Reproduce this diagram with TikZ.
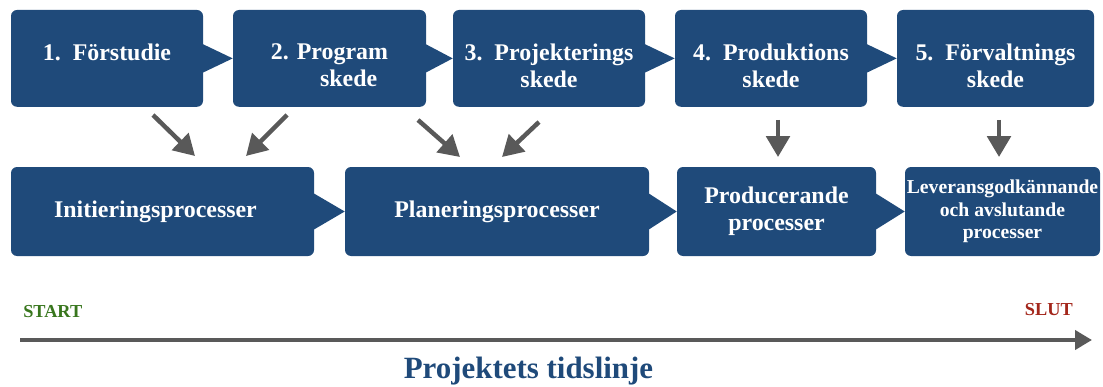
\documentclass[tikz,border=0pt]{standalone}
\usepackage{fontspec}
\setmainfont{Liberation Serif}
\usetikzlibrary{arrows.meta, positioning}

\definecolor{boxblue}{RGB}{31,74,122}
\definecolor{arrowgray}{RGB}{89,89,89}
\definecolor{startgreen}{RGB}{56,118,29}
\definecolor{slutred}{RGB}{163,38,27}

\tikzset{
    phasebox/.style={fill=boxblue, rounded corners=0.15cm, inner sep=0pt,
        minimum width=4.8cm, minimum height=2.42cm},
    phasetext/.style={text=white, align=center, inner sep=0pt, anchor=north,
        font=\bfseries\fontsize{17}{19}\selectfont},
    procbox/.style={fill=boxblue, rounded corners=0.15cm, inner sep=0pt,
        minimum height=2.225cm, text=white, align=center,
        font=\bfseries\fontsize{17}{19}\selectfont},
    notch/.style={fill=boxblue},
    flowarrow/.style={draw=arrowgray, line width=3.2pt,
        -{Triangle[width=0.58cm, length=0.52cm]}},
    timearrow/.style={draw=arrowgray, line width=2.85pt,
        -{Triangle[width=0.475cm, length=0.425cm]}}
}

\begin{document}
\begin{tikzpicture}

    \useasboundingbox (0,0) rectangle (27.575,-9.675);

    % Phase boxes
    \node[phasebox] (b1) at (2.675,-1.46) {};
    \node[phasebox, minimum width=4.825cm] (b2) at (8.2375,-1.46) {};
    \node[phasebox] (b3) at (13.725,-1.46) {};
    \node[phasebox] (b4) at (19.275,-1.46) {};
    \node[phasebox, minimum width=4.925cm] (b5) at (24.8875,-1.46) {};

    \node[phasetext] (t1) at ([yshift=-0.85cm]b1.north) {1.\ \ Förstudie};
    \node[phasetext] (t2) at ([yshift=-0.85cm]b2.north) {2. Program\\\hspace*{1.6em}skede};
    \node[phasetext] (t3) at ([yshift=-0.85cm]b3.north) {3.\ \ Projekterings\\skede};
    \node[phasetext] (t4) at ([yshift=-0.85cm]b4.north) {4.\ \ Produktions\\skede};
    \node[phasetext] (t5) at ([yshift=-0.85cm]b5.north) {5.\ \ Förvaltnings\\skede};

    % Notches between phases
    \fill[notch] ([shift={(-0.05,0.375)}]b1.east) -- (b2.west) -- ([shift={(-0.05,-0.375)}]b1.east) -- cycle;
    \fill[notch] ([shift={(-0.05,0.375)}]b2.east) -- (b3.west) -- ([shift={(-0.05,-0.375)}]b2.east) -- cycle;
    \fill[notch] ([shift={(-0.05,0.375)}]b3.east) -- (b4.west) -- ([shift={(-0.05,-0.375)}]b3.east) -- cycle;
    \fill[notch] ([shift={(-0.05,0.375)}]b4.east) -- (b5.west) -- ([shift={(-0.05,-0.375)}]b4.east) -- cycle;

    % Process boxes
    \node[procbox, minimum width=7.575cm] (p1) at (4.0625,-5.2875) {\hspace*{-0.35cm}Initieringsprocesser};
    \node[procbox, minimum width=7.6cm] (p2) at (12.425,-5.2875) {Planeringsprocesser};
    \node[procbox, minimum width=4.975cm] (p3) at (19.4125,-5.2875) {Producerande\\processer};
    \node[procbox, minimum width=4.875cm, font=\bfseries\fontsize{14}{16}\selectfont]
        (p4) at (25.0625,-5.2875) {Leveransgodkännande\\och avslutande\\processer};

    % Notches between processes
    \fill[notch] ([shift={(-0.05,0.475)}]p1.east) -- (p2.west) -- ([shift={(-0.05,-0.475)}]p1.east) -- cycle;
    \fill[notch] ([shift={(-0.05,0.475)}]p2.east) -- (p3.west) -- ([shift={(-0.05,-0.475)}]p2.east) -- cycle;
    \fill[notch] ([shift={(-0.05,0.475)}]p3.east) -- (p4.west) -- ([shift={(-0.05,-0.475)}]p3.east) -- cycle;

    % ================================
    % Arrows phase -> process

    \coordinate (a1s) at (3.825,-2.875);
    \coordinate (a1e) at (4.875,-3.9);
    \coordinate (a2s) at (7.175,-2.875);
    \coordinate (a2e) at (6.15,-3.9);
    \coordinate (a3s) at (10.45,-3.0);
    \coordinate (a3e) at (11.5,-3.925);
    \coordinate (a4s) at (13.475,-3.05);
    \coordinate (a4e) at (12.55,-3.925);
    \coordinate (a5s) at (19.45,-3.0);
    \coordinate (a5e) at (19.45,-3.925);
    \coordinate (a6s) at (24.975,-3.0);
    \coordinate (a6e) at (24.975,-3.925);

    \draw[flowarrow] (a1s) -- (a1e);
    \draw[flowarrow] (a2s) -- (a2e);
    \draw[flowarrow] (a3s) -- (a3e);
    \draw[flowarrow] (a4s) -- (a4e);
    \draw[flowarrow] (a5s) -- (a5e);
    \draw[flowarrow] (a6s) -- (a6e);

    % ================================
    % Timeline

    \coordinate (tstart) at (0.5,-8.5);
    \coordinate (tend) at (27.3,-8.5);
    \draw[timearrow] (tstart) -- (tend);

    \node[anchor=base west, inner sep=0pt, text=startgreen,
        font=\bfseries\fontsize{13}{15}\selectfont] (start) at (0.575,-7.94) {START};
    \node[anchor=base east, inner sep=0pt, text=slutred,
        font=\bfseries\fontsize{13}{15}\selectfont] (slut) at (26.825,-7.875) {SLUT};
    \node[anchor=base, inner sep=0pt, text=boxblue,
        font=\bfseries\fontsize{22}{26}\selectfont] (title) at (13.2125,-9.45) {Projektets tidslinje};

\end{tikzpicture}
\end{document}
